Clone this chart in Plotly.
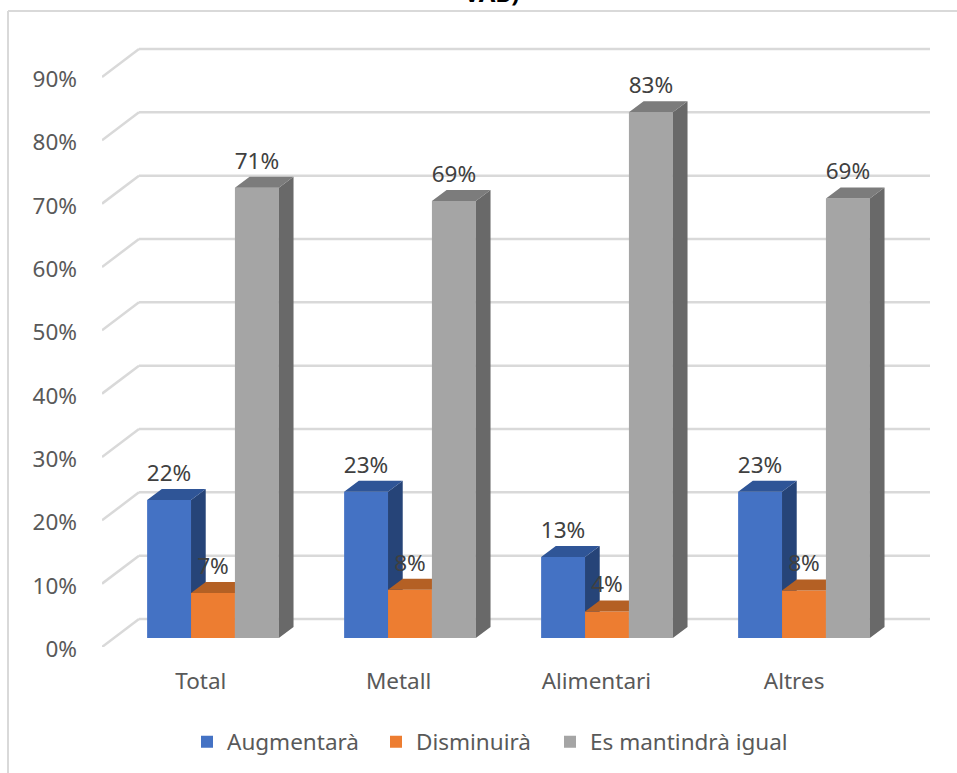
import plotly.graph_objects as go

categories = ["Total", "Metall", "Alimentari", "Altres"]
augmentara = [21.8, 23.1, 12.8, 23.1]
disminuira = [7.1, 7.6, 4.2, 7.5]
mantindra = [71.1, 69.0, 83.0, 69.4]
y_ticks = [0, 10, 20, 30, 40, 50, 60, 70, 80, 90]

W, H = 957, 773
PX_LEFT, PX_CAT = 102.0, 197.75
PX_RIGHT = 935.0
PX_Y0, PX_PER = 647.0, 6.333
PX_TOP = 30.0
PX_BAR_PITCH = 197.0
FS = 22.5

X_RANGE = [-0.5, -0.5 + (PX_RIGHT - PX_LEFT) / PX_CAT]
Y_RANGE = [0, (PX_Y0 - PX_TOP) / PX_PER]


def ux(px):
    return px / PX_CAT


def uy(px):
    return px / PX_PER


BAR_W = ux(43.9)
BASE = uy(9)
DX, DY = ux(14.7), uy(11)
BACK_DX, BACK_DY = ux(37), uy(28)
GROUP_SHIFT = ux(213.0 - 200.9)
OFFSETS = [GROUP_SHIFT - BAR_W, GROUP_SHIFT, GROUP_SHIFT + BAR_W]
PITCH = ux(PX_BAR_PITCH)
LABEL_LIFT = uy(2.5)

series = [
    ("Augmentarà", augmentara, "#4472C4", "#2F5597", "#264478"),
    ("Disminuirà", disminuira, "#ED7D31", "#B46024", "#9E4F1C"),
    ("Es mantindrà igual", mantindra, "#A5A5A5", "#7C7C7C", "#696969"),
]
LEGEND_NAMES = ["legend", "legend2", "legend3"]
LEGEND_PX = [187, 376, 550]

fig = go.Figure()
for i, (name, vals, front, top, side) in enumerate(series):
    sfx = "" if i == 0 else str(i + 1)
    xs = [k * PITCH + OFFSETS[i] for k in range(len(vals))]
    fig.add_trace(go.Bar(
        x=xs, y=vals, base=BASE, width=BAR_W, name=name,
        marker=dict(color=front, line=dict(width=0)),
        xaxis="x" + sfx, yaxis="y" + sfx, showlegend=True, legend=LEGEND_NAMES[i],
    ))
    tx, ty, sx, sy = [], [], [], []
    for x, v in zip(xs, vals):
        l, r, t = x - BAR_W / 2, x + BAR_W / 2, v + BASE
        tx += [l, r, r + DX, l + DX, l, None]
        ty += [t, t, t + DY, t + DY, t, None]
        sx += [r, r + DX, r + DX, r, r, None]
        sy += [BASE, BASE + DY, t + DY, t, BASE, None]
    for fx, fy, col in ((sx, sy, side), (tx, ty, top)):
        fig.add_trace(go.Scatter(
            x=fx, y=fy, mode="lines", fill="toself", fillcolor=col,
            line=dict(width=0, color=col), hoverinfo="skip", showlegend=False,
            xaxis="x" + sfx, yaxis="y" + sfx,
        ))

# data labels on top of everything
for i, (name, vals, *_rest) in enumerate(series):
    fig.add_trace(go.Scatter(
        x=[k * PITCH + OFFSETS[i] for k in range(len(vals))],
        y=[v + BASE + DY + LABEL_LIFT for v in vals],
        mode="text", text=[f"{round(v)}%" for v in vals],
        textposition="top center",
        textfont=dict(family="Noto Sans", size=FS, color="#404040"),
        showlegend=False, hoverinfo="skip", xaxis="x3", yaxis="y3",
        cliponaxis=False,
    ))

shapes = []
GRID = dict(color="#D9D9D9", width=2.5)
for v in y_ticks:
    x0 = -0.5
    shapes.append(dict(type="line", xref="x", yref="y", layer="below", line=GRID,
                       x0=x0, y0=v, x1=x0 + BACK_DX, y1=v + BACK_DY))
    shapes.append(dict(type="line", xref="x", yref="y", layer="below", line=GRID,
                       x0=x0 + BACK_DX, y0=v + BACK_DY, x1=3.5 + BACK_DX, y1=v + BACK_DY))
# chart-area frame
BORDER = dict(color="#D9D9D9", width=2)
shapes.append(dict(type="line", xref="paper", yref="paper", layer="below", line=BORDER,
                   x0=8 / W, x1=1, y0=1 - 11 / H, y1=1 - 11 / H))
shapes.append(dict(type="line", xref="paper", yref="paper", layer="below", line=BORDER,
                   x0=8 / W, x1=8 / W, y0=0, y1=1 - 11 / H))

dom_x = [PX_LEFT / W, PX_RIGHT / W]
dom_y = [1 - PX_Y0 / H, 1 - PX_TOP / H]
hidden = dict(visible=False, fixedrange=True)
legend_common = dict(orientation="h", y=1 - 742 / H, yanchor="middle", xanchor="left",
                     bgcolor="rgba(0,0,0,0)", font=dict(size=FS, color="#595959"), itemwidth=30)

fig.update_layout(
    width=W, height=H, margin=dict(l=0, r=0, t=0, b=0, autoexpand=False),
    paper_bgcolor="white", plot_bgcolor="rgba(0,0,0,0)",
    showlegend=True, barmode="overlay", shapes=shapes,
    font=dict(family="Noto Sans", color="#595959"),
    xaxis=dict(domain=dom_x, range=X_RANGE, tickmode="array", tickvals=list(range(4)),
               ticktext=categories, showgrid=False, zeroline=False, showline=False,
               ticks="", ticklabelstandoff=18, tickfont=dict(size=FS, color="#595959"),
               automargin=False),
    yaxis=dict(domain=dom_y, range=Y_RANGE, tickmode="array", tickvals=y_ticks,
               ticktext=[f"{v}%" for v in y_ticks], showgrid=False, zeroline=False,
               showline=False, ticks="", ticklabelstandoff=24, ticklabelshift=2,
               tickfont=dict(size=FS, color="#595959"), automargin=False),
    xaxis2=dict(overlaying="x", range=X_RANGE, **hidden),
    yaxis2=dict(overlaying="y", range=Y_RANGE, **hidden),
    xaxis3=dict(overlaying="x", range=X_RANGE, **hidden),
    yaxis3=dict(overlaying="y", range=Y_RANGE, **hidden),
    legend=dict(x=LEGEND_PX[0] / W, **legend_common),
    legend2=dict(x=LEGEND_PX[1] / W, **legend_common),
    legend3=dict(x=LEGEND_PX[2] / W, **legend_common),
    annotations=[dict(text="<b>VAB)</b>", xref="paper", yref="paper", x=491 / W, y=1 + 8 / H,
                      xanchor="center", yanchor="middle", showarrow=False,
                      font=dict(family="Noto Sans", size=24, color="#000000"))],
)
fig.write_html("out.html", config=dict(displayModeBar=False),
               post_script="document.body.style.margin='0';")
